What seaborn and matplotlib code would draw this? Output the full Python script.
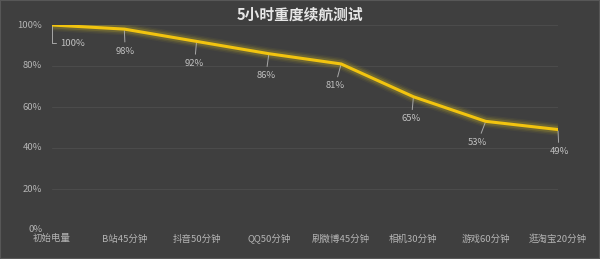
import matplotlib
matplotlib.use("Agg")
import matplotlib.pyplot as plt
import seaborn as sns
import pandas as pd

categories = ["初始电量", "B站45分钟", "抖音50分钟", "QQ50分钟", "刷微博45分钟", "相机30分钟", "游戏60分钟", "逛淘宝20分钟"]
battery = [100, 98, 92, 86, 81, 65, 53, 49]
yticks = [0, 20, 40, 60, 80, 100]
title = "5小时重度续航测试"

sns.set_theme(style="dark")
plt.rcParams['font.family'] = ['Noto Sans CJK SC', 'DejaVu Sans']

bg = "#3f3f3f"
fig = plt.figure(figsize=(6, 2.59), dpi=100, facecolor=bg)
ax = fig.add_axes([52/600, 29/259, (558-52)/600, (230-25)/259])
ax.set_facecolor(bg)

df = pd.DataFrame({"x": list(range(len(categories))), "battery": battery})

# glow
for lw, a in [(9, 0.06), (7, 0.10), (5, 0.18)]:
    sns.lineplot(data=df, x="x", y="battery", ax=ax, color="#d8c020", linewidth=lw, alpha=a, zorder=3)
sns.lineplot(data=df, x="x", y="battery", ax=ax, color="#f2c40f", linewidth=2.2, zorder=4)

ax.set_xlim(0, len(categories) - 1)
ax.set_ylim(0, 100)
ax.set_xticks(range(len(categories)))
ax.set_xticklabels(categories, fontsize=6.8, color="#b4b4b4")
ax.set_yticks(yticks)
ax.set_yticklabels([f"{v}%" for v in yticks], fontsize=6.8, color="#b4b4b4")
ax.tick_params(axis="x", pad=3, length=0)
ax.tick_params(axis="y", pad=7, length=0)
for lbl in ax.get_yticklabels():
    lbl.set_verticalalignment("center")
ax.set_xlabel("")
ax.set_ylabel("")
ax.grid(axis="y", color="#4b4b4b", linewidth=0.8)
ax.grid(axis="x", visible=False)
for s in ax.spines.values():
    s.set_visible(False)
ax.set_axisbelow(True)

offsets = [(21, -18), (1, -22), (-2, -22), (-3, -22), (-6, -22), (-2, -22), (-8, -21), (1, -22)]
for i, (v, off) in enumerate(zip(battery, offsets)):
    if i == 0:
        ax.annotate(f"{v}%", xy=(i, v), xytext=off, textcoords="offset pixels",
                    ha="center", va="center", fontsize=6.8, color="#c0c0c0",
                    arrowprops=dict(arrowstyle="-", color="#a8a8a8", lw=0.7,
                                    connectionstyle="angle,angleA=0,angleB=90,rad=0",
                                    shrinkA=1, shrinkB=0))
    else:
        ax.annotate(f"{v}%", xy=(i, v), xytext=off, textcoords="offset pixels",
                    ha="center", va="center", fontsize=6.8, color="#c0c0c0",
                    arrowprops=dict(arrowstyle="-", color="#a8a8a8", lw=0.7,
                                    shrinkA=1, shrinkB=1))

fig.text(0.5, 1 - 15/259, title, ha="center", va="center", fontsize=10.6,
         fontweight="bold", color="#e6e6e6")

fig.patches.append(plt.Rectangle((0, 0), 1, 1, transform=fig.transFigure,
                                 fill=False, edgecolor="#575757", linewidth=1.5))

fig.savefig("out.png", dpi=100, facecolor=bg)
